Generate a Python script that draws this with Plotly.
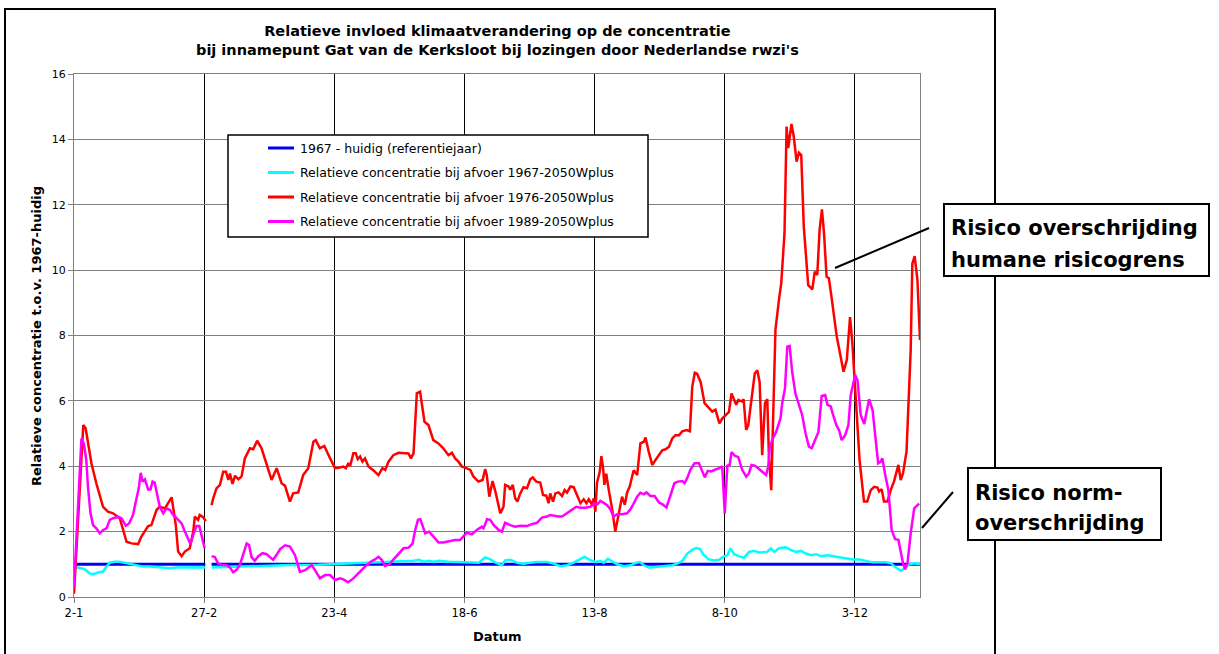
import plotly.graph_objects as go

# Day offsets from 2 January (leap year; 29 February, day 58, has no data)
TICK_DAYS = [0, 56, 112, 168, 224, 280, 336]
TICK_LABELS = ["2-1", "27-2", "23-4", "18-6", "13-8", "8-10", "3-12"]

SERIES_NAMES = [
    "1967 - huidig (referentiejaar)",
    "Relatieve concentratie bij afvoer 1967-2050Wplus",
    "Relatieve concentratie bij afvoer 1976-2050Wplus",
    "Relatieve concentratie bij afvoer 1989-2050Wplus",
]
SERIES_COLORS = ["#0000EE", "#00FFFF", "#FF0000", "#FF00FF"]

REF_DAYS = [0, 56.5, 58, 59.2, 364]
REF_VALS = [1, 1, None, 1, 1]

C67_DAYS = [0, 2.4, 4.6, 6.8, 8.2, 10.4, 12.5, 14, 15.4, 17.5, 19.7, 21.8, 24, 26.9, 29.7, 32.6, 35.5,
            38.4, 41.3, 44.1, 47, 49.8, 52.7, 56.5, 58,
            59.2, 62.8, 69.9, 77.1, 84.3, 92.9, 105.1, 119.5, 128.1, 133.8, 139.7, 146.1, 148.3, 150.5,
            152.6, 154.8, 156.9, 161.2, 168.4, 174.2, 176.9, 179.1, 181.2, 184.1, 185.5, 187.7, 190.6,
            193.4, 196.3, 199.2, 203.5, 206.4, 209.3, 212.1, 215, 217.9, 219.6, 221.5, 224.3, 226.5,
            227.9, 229.7, 231.5, 233.7, 236.5, 239.4, 241.6, 243.4, 245.2, 247.3, 250.2, 253.1, 255.2,
            257.4, 259.5, 261.7, 263.8, 266, 267.7, 269.3, 271, 273.2, 275.4, 277.6, 278.9, 281.1, 282.5,
            284, 286.1, 288.3, 290.4, 292.6, 294.7, 298.3, 299.8, 301.3, 303.4, 306.3, 308.4, 310.6,
            312.8, 314.9, 317.1, 319.3, 321.4, 324.3, 327.9, 331.5, 335.1, 338, 340.8, 343.7, 346.6,
            349.4, 351.6, 353.6, 355.9, 357.6, 359.3, 361.5, 364]
C67_VALS = [0.93, 0.9, 0.85, 0.72, 0.7, 0.75, 0.78, 0.93, 1.05, 1.08, 1.08, 1.05, 1.02, 0.96, 0.93, 0.93, 0.91,
            0.91, 0.88, 0.9, 0.91, 0.9, 0.91, 0.9, None,
            0.9, 0.91, 0.93, 0.95, 0.96, 0.98, 0.99, 1.03, 1.04, 1.06, 1.08, 1.11, 1.14, 1.08,
            1.11, 1.08, 1.11, 1.08, 1.06, 1.05, 1.21, 1.15, 1.06, 0.97, 1.12, 1.14, 1.05,
            1.02, 1.05, 1.07, 1.07, 1.02, 0.94, 0.97, 1.05, 1.17, 1.23, 1.15, 1.07, 1.1,
            1.05, 1.17, 1.09, 1.0, 0.94, 0.97, 1.04, 1.07, 0.97, 0.9, 0.92, 0.94, 0.97,
            0.97, 1.02, 1.1, 1.32, 1.44, 1.5, 1.47, 1.28, 1.15, 1.12, 1.14, 1.21, 1.28, 1.49,
            1.31, 1.25, 1.2, 1.38, 1.41, 1.36, 1.38, 1.49, 1.38, 1.49, 1.52, 1.44, 1.38,
            1.41, 1.33, 1.28, 1.31, 1.25, 1.28, 1.23, 1.18, 1.15, 1.15, 1.11, 1.06, 1.06,
            1.06, 1.03, 0.9, 0.8, 0.9, 1.0, 1.03, 1.0]

C76_DAYS = [0, 4, 5, 7.5, 9.6, 12.5, 14.6, 16.8, 19.7, 22.6, 24.7, 27.6, 29, 31.9, 33.3, 35.5, 36.9, 39.1,
            42, 43.8, 44.8, 46.3, 47.7, 49.8, 51.3, 52, 53.4, 54.1, 55.6, 56.7, 58,
            59.2, 59.9, 61.3, 62.8, 64.2, 65.4, 66.4, 67.1, 68.2, 69.3, 70.7, 72.1, 73.5, 75.7, 77.1,
            78.8, 80.7, 82.9, 85, 87.2, 89.3, 90.8, 92.9, 94.3, 96.5, 98.6, 100.8, 103, 104, 105.8,
            107.7, 110.2, 112.3, 114.5, 115.9, 117, 118.1, 118.8, 120.2, 121.2, 122.1, 123.1, 124.1,
            125.2, 126.7, 128.9, 131, 132.7, 133.9, 135.3, 137.4, 139.6, 141.8, 143.9, 145, 146.1,
            147.5, 148.9, 150.8, 152.5, 154.6, 156.8, 158.9, 161.1, 162.6, 164, 165.4, 166.9, 168.3,
            170.5, 171.9, 174, 175.8, 176.9, 177.6, 178.7, 180.1, 181.5, 183.4, 184.8, 185.5, 187,
            187.7, 188.8, 189.8, 190.8, 192, 193.4, 194.9, 196.3, 197.4, 198.9, 200.6, 201.8, 203.2,
            204.2, 204.9, 206.1, 207.1, 208.5, 210, 211.1, 212.1, 213.6, 215, 216.4, 217.9, 219.3,
            220.5, 221.5, 222.9, 223.6, 224.3, 225, 226.2, 226.9, 227.6, 228.2, 229, 230.1, 231.5,
            232.9, 234.4, 235.8, 237, 238, 239.1, 240.8, 242.3, 243.7, 245.2, 245.9, 247.3, 248.8,
            250.2, 251.7, 253.1, 254.5, 256, 257.4, 258.8, 260.3, 261.7, 263.6, 265, 266, 267.1,
            268.1, 269.6, 271.3, 273.2, 274.6, 276, 277.7, 278.9, 280.4, 281.8, 282.9, 283.9, 284.9,
            285.9, 287.4, 288.1, 289.2, 290.1, 291.5, 292.9, 294, 295, 296.1, 297.3, 298.3, 299, 300,
            301.1, 301.8, 303.3, 304.3, 305.7, 306.6, 307.3, 308, 308.7, 309.7, 310.9, 311.9, 312.9,
            314, 315.9, 317.7, 318.7, 319.8, 320.8, 321.8, 322.7, 323.8, 324.8, 325.9, 328.2, 329.6,
            331.1, 332.5, 333.9, 334.9, 336, 338, 339.9, 341.3, 342.8, 344.3, 345.7, 346.4, 347.5,
            348.5, 350, 351.4, 352.8, 354.7, 355.7, 356.7, 358.2, 360, 360.7, 361.7, 362.9, 364]
C76_VALS = [0.1, 5.26, 5.16, 4.09, 3.48, 2.76, 2.61, 2.56, 2.41, 1.69, 1.64, 1.62, 1.85, 2.17, 2.2, 2.66, 2.76, 2.71,
            3.05, 2.2, 1.39, 1.25, 1.39, 1.49, 2.0, 2.46, 2.36, 2.51, 2.44, 2.32, None,
            2.81, 3.02, 3.32, 3.43, 3.83, 3.83, 3.58, 3.78, 3.46, 3.71, 3.6, 3.69, 4.24, 4.55, 4.52,
            4.78, 4.55, 4.04, 3.58, 3.94, 3.48, 3.4, 2.92, 3.17, 3.2, 3.73, 3.94, 4.75, 4.8, 4.55,
            4.62, 4.24, 3.94, 3.96, 3.99, 3.94, 4.1, 4.0, 4.4, 4.4, 4.22, 4.3, 4.14,
            4.24, 3.99, 3.87, 3.73, 3.94, 3.89, 4.14, 4.34, 4.41, 4.39, 4.39, 4.24, 4.4,
            6.23, 6.28, 5.36, 5.26, 4.8, 4.7, 4.55, 4.34, 4.41, 4.24, 4.14, 3.99, 3.96,
            3.89, 3.68, 3.53, 3.58, 3.91, 3.73, 3.07, 3.55, 3.17, 2.56, 2.76, 3.43, 3.38,
            3.28, 3.43, 3.02, 2.92, 3.17, 3.36, 3.33, 3.6, 3.66, 3.53, 3.5, 3.12, 3.1,
            2.87, 3.17, 2.92, 3.17, 3.2, 3.09, 3.27, 3.19, 3.38, 3.36, 3.12, 2.87, 2.99,
            2.87, 2.99, 2.82, 3.02, 2.61, 3.48, 3.83, 4.31, 3.99, 3.43, 3.77, 3.27, 2.71,
            2.0, 2.56, 3.07, 2.82, 3.2, 3.38, 3.88, 3.73, 4.7, 4.75, 4.88, 4.44, 4.04,
            4.19, 4.34, 4.49, 4.52, 4.6, 4.85, 4.95, 4.95, 5.07, 5.11, 5.07, 6.43, 6.86,
            6.83, 6.58, 5.93, 5.77, 5.67, 5.73, 5.31, 5.46, 5.56, 5.66, 6.23, 6.05, 5.88,
            6.03, 5.98, 6.05, 5.11, 5.26, 6.03, 6.84, 6.94, 6.58, 4.34, 5.93, 6.05, 4.29, 3.27,
            6.03, 8.17, 9.08, 9.6, 11.13, 14.39, 13.73, 14.18, 14.47, 14.08, 13.32, 13.59, 13.52,
            11.33, 9.54, 9.41, 9.95, 9.85, 11.23, 11.86, 11.13, 9.8, 9.75, 9.19, 7.96, 7.45,
            6.89, 7.25, 8.56, 7.76, 6.54, 4.19, 2.92, 2.92, 3.27, 3.37, 3.35, 3.23, 3.3,
            2.92, 2.92, 3.27, 3.53, 4.04, 3.58, 3.79, 4.45, 7.56, 10.2, 10.43, 9.7, 7.86]

C89_DAYS = [0, 3.2, 4.2, 5.3, 6, 7.1, 8.2, 9.6, 11.1, 12.5, 14, 15.4, 16.8, 19, 20.4, 22.3, 23.7, 25.4, 26.9,
            27.9, 28.7, 29.5, 30.5, 31.9, 32.9, 33.8, 34.7, 35.8, 36.9, 38.4, 39.8, 41.3, 42.7, 44.1,
            46.3, 47.7, 49.1, 50.1, 51.3, 52.7, 53.9, 54.9, 56.2, 58,
            59.2, 60.6, 62, 63.5, 65.6, 67.1, 68.5, 69.9, 71.4, 72.8, 74.3, 75.3, 76.4, 77.8, 79.3,
            81.1, 82.9, 84.3, 85.7, 87.2, 88.6, 90.8, 92.9, 95.1, 97.2, 99.4, 102.3, 103.7, 105.8, 108,
            110.2, 112.3, 114.5, 115.9, 118, 120.2, 122.3, 125.2, 128.1, 129.5, 131, 132.5, 133.8,
            135.7, 137.5, 139.7, 141.8, 144, 145.7, 146.8, 148, 149, 150, 151.1, 152.8, 154.6, 156.8,
            158.9, 161.8, 163.9, 166.1, 167.6, 169, 171.2, 173.3, 175.5, 176.2, 177.7, 179.1, 180.6,
            182.7, 184.1, 185.5, 187.7, 189.8, 192, 194.9, 197, 199.2, 201.3, 203.5, 204.9, 206.4,
            208.5, 210, 212.1, 214.3, 216.1, 217.9, 220, 222.2, 224, 225.3, 226.5, 227.9, 229.4,
            230.8, 232.2, 233.7, 235.8, 238, 239.4, 240.8, 242.3, 243.7, 245.2, 246.3, 248, 249.8,
            251.7, 253.1, 254.9, 256.7, 258.3, 259.8, 261.7, 262.7, 263.8, 265.2, 267, 268.9, 270.3,
            271.4, 272.7, 274.2, 276, 277.7, 278.9, 280, 281.1, 282.1, 282.9, 284.3, 285.8, 287.5,
            289.2, 290.4, 291.5, 292.9, 294.4, 296.1, 297.8, 298.7, 299.4, 300.7, 302.1, 304, 304.7,
            305.9, 306.9, 307.9, 309, 310.4, 311.9, 313.3, 314.8, 316.2, 317.4, 318.8, 320.3, 321.7,
            323.2, 324.2, 325.6, 326.6, 328, 329.2, 330.3, 331.8, 333.2, 334.2, 336.1, 337.1, 338.5,
            340, 341, 342.1, 343.6, 344.7, 346, 347.1, 347.8, 349.2, 350.4, 351.8, 353.3, 354.7,
            355.7, 356.7, 357.6, 358.6, 360, 361.5, 363.6]
C89_VALS = [0.3, 4.85, 4.7, 4.19, 3.38, 2.56, 2.2, 2.1, 1.95, 2.05, 2.1, 2.36, 2.41, 2.45, 2.41, 2.18, 2.25, 2.51, 3.02,
            3.33, 3.8, 3.53, 3.6, 3.29, 3.29, 3.53, 3.5, 3.12, 2.76, 2.56, 2.71, 2.66, 2.51, 2.41,
            2.25, 2.0, 1.75, 1.62, 1.9, 2.17, 2.17, 1.85, 1.49, None,
            1.25, 1.22, 1.03, 0.98, 0.98, 0.9, 0.76, 0.83, 0.99, 1.34, 1.64, 1.59, 1.22, 1.11, 1.25,
            1.34, 1.31, 1.22, 1.14, 1.29, 1.46, 1.58, 1.54, 1.28, 0.77, 0.82, 0.98, 0.82, 0.57, 0.67,
            0.67, 0.52, 0.57, 0.54, 0.45, 0.57, 0.73, 0.93, 1.1, 1.15, 1.23, 1.13, 0.95,
            1.0, 1.15, 1.31, 1.49, 1.51, 1.64, 2.05, 2.36, 2.38, 2.15, 1.95, 2.0, 1.85, 1.67,
            1.67, 1.71, 1.74, 1.74, 1.85, 1.97, 1.92, 2.05, 2.15, 2.1, 2.38, 2.36, 2.2,
            2.05, 2.0, 2.27, 2.2, 2.15, 2.18, 2.17, 2.23, 2.27, 2.43, 2.46, 2.51, 2.48,
            2.46, 2.46, 2.56, 2.68, 2.76, 2.73, 2.73, 2.76, 2.86, 2.84, 2.94, 2.88, 2.81,
            2.68, 2.46, 2.53, 2.53, 2.56, 2.68, 2.86, 3.07, 3.19, 3.14, 3.2, 3.09, 3.09,
            2.89, 2.84, 2.74, 3.12, 3.48, 3.53, 3.55, 3.48, 3.63, 3.89, 4.09, 4.09, 3.84,
            3.66, 3.86, 3.84, 3.9, 3.94, 4.0, 2.56, 4.02, 4.04, 4.43, 4.32, 4.28, 3.89,
            3.68, 3.78, 4.04, 4.02, 3.94, 3.84, 3.73, 3.99, 4.6, 4.85, 5.05, 5.47, 5.93,
            6.38, 7.66, 7.68, 6.89, 6.23, 5.88, 5.57, 5.0, 4.6, 4.55, 4.8, 5.05, 6.15,
            6.18, 5.88, 5.83, 5.57, 5.26, 5.1, 4.8, 4.95, 5.26, 6.18, 6.79, 6.63, 5.57,
            5.29, 5.67, 6.05, 5.72, 5.0, 4.09, 4.14, 4.24, 3.68, 3.27, 2.05, 1.77, 1.75,
            1.34, 1.03, 0.85, 1.03, 1.95, 2.71, 2.86]

SERIES = [(REF_DAYS, REF_VALS), (C67_DAYS, C67_VALS), (C76_DAYS, C76_VALS), (C89_DAYS, C89_VALS)]
LINE_WIDTHS = [3, 2.5, 2.5, 2.5]

TITLE = ("Relatieve invloed klimaatverandering op de concentratie<br>"
         "bij innamepunt Gat van de Kerksloot bij lozingen door Nederlandse rwzi's")
Y_TITLE = "Relatieve concentratie t.o.v. 1967-huidig"
X_TITLE = "Datum"
NOTE_HUMAN = ["Risico overschrijding", "humane risicogrens"]
NOTE_NORM = ["Risico norm-", "overschrijding"]

FONT = "DejaVu Sans, Verdana, sans-serif"
W, H = 1219, 654
L, R, T, B = 74, 920, 74, 597  # plot area in pixels


def px(x):
    return (x - L) / (R - L)


def py(y):
    return (B - y) / (B - T)


fig = go.Figure()
for (days, vals), name, color, lw in zip(SERIES, SERIES_NAMES, SERIES_COLORS, LINE_WIDTHS):
    fig.add_trace(go.Scatter(x=days, y=vals, mode="lines", name=name, connectgaps=False,
                             line=dict(color=color, width=lw), showlegend=False))

shapes = []
annotations = []

# outer chart frame
shapes.append(dict(type="rect", xref="paper", yref="paper", x0=px(5), x1=px(995), y0=py(9), y1=py(670),
                   line=dict(color="black", width=2), fillcolor="rgba(0,0,0,0)", layer="above"))

# legend box
shapes.append(dict(type="rect", xref="paper", yref="paper", x0=px(228), x1=px(648), y0=py(135), y1=py(237),
                   line=dict(color="black", width=1.5), fillcolor="white", layer="above"))
row_y = [148, 172.5, 197, 221.5]
for ry, name, color in zip(row_y, SERIES_NAMES, SERIES_COLORS):
    shapes.append(dict(type="line", xref="paper", yref="paper", x0=px(268), x1=px(294), y0=py(ry), y1=py(ry),
                       line=dict(color=color, width=3), layer="above"))
    annotations.append(dict(xref="paper", yref="paper", x=px(298), y=py(ry), text=name, showarrow=False,
                            xanchor="left", yanchor="middle", font=dict(family=FONT, size=12.5, color="black")))

# callout boxes and leader lines
shapes.append(dict(type="line", xref="paper", yref="paper", x0=px(835), y0=py(268), x1=px(929), y1=py(228),
                   line=dict(color="black", width=2), layer="above"))
shapes.append(dict(type="line", xref="paper", yref="paper", x0=px(922), y0=py(528), x1=px(953), y1=py(492),
                   line=dict(color="black", width=2), layer="above"))
shapes.append(dict(type="rect", xref="paper", yref="paper", x0=px(944), x1=px(1209), y0=py(204), y1=py(276),
                   line=dict(color="black", width=2), fillcolor="white", layer="above"))
shapes.append(dict(type="rect", xref="paper", yref="paper", x0=px(968), x1=px(1161), y0=py(468), y1=py(540),
                   line=dict(color="black", width=2), fillcolor="white", layer="above"))
for txt, yy in zip(NOTE_HUMAN, [228, 260]):
    annotations.append(dict(xref="paper", yref="paper", x=px(949), y=py(yy), text="<b>%s</b>" % txt,
                            showarrow=False, xanchor="left", yanchor="middle",
                            font=dict(family=FONT, size=21, color="black")))
for txt, yy in zip(NOTE_NORM, [493, 523]):
    annotations.append(dict(xref="paper", yref="paper", x=px(973), y=py(yy), text="<b>%s</b>" % txt,
                            showarrow=False, xanchor="left", yanchor="middle",
                            font=dict(family=FONT, size=21, color="black")))

# titles
annotations.append(dict(xref="paper", yref="paper", x=px(498), y=py(41), text="<b>%s</b>" % TITLE,
                        showarrow=False, xanchor="center", yanchor="middle",
                        font=dict(family=FONT, size=14.5, color="black")))
annotations.append(dict(xref="paper", yref="paper", x=px(36), y=py(336), text="<b>%s</b>" % Y_TITLE,
                        showarrow=False, xanchor="center", yanchor="middle", textangle=-90,
                        font=dict(family=FONT, size=13, color="black")))
annotations.append(dict(xref="paper", yref="paper", x=px(497), y=py(636), text="<b>%s</b>" % X_TITLE,
                        showarrow=False, xanchor="center", yanchor="middle",
                        font=dict(family=FONT, size=13, color="black")))

fig.update_layout(
    width=W, height=H,
    margin=dict(l=L, r=W - R, t=T, b=H - B, pad=0),
    paper_bgcolor="white", plot_bgcolor="white",
    font=dict(family=FONT, size=11, color="black"),
    showlegend=False,
    shapes=shapes, annotations=annotations,
    xaxis=dict(range=[0, 364], tickmode="array", tickvals=TICK_DAYS, ticktext=TICK_LABELS,
               showgrid=True, gridcolor="black", gridwidth=1, zeroline=False,
               showline=True, linecolor="#808080", linewidth=1, mirror=True,
               ticks="outside", ticklen=5, tickcolor="#808080",
               tickfont=dict(family=FONT, size=11.5, color="black")),
    yaxis=dict(range=[0, 16], tickmode="linear", tick0=0, dtick=2,
               showgrid=True, gridcolor="#808080", gridwidth=1, zeroline=False,
               showline=True, linecolor="#808080", linewidth=1, mirror=True,
               ticks="outside", ticklen=5, tickcolor="#808080",
               tickfont=dict(family=FONT, size=11, color="black")),
)

fig.write_html("out.html")
